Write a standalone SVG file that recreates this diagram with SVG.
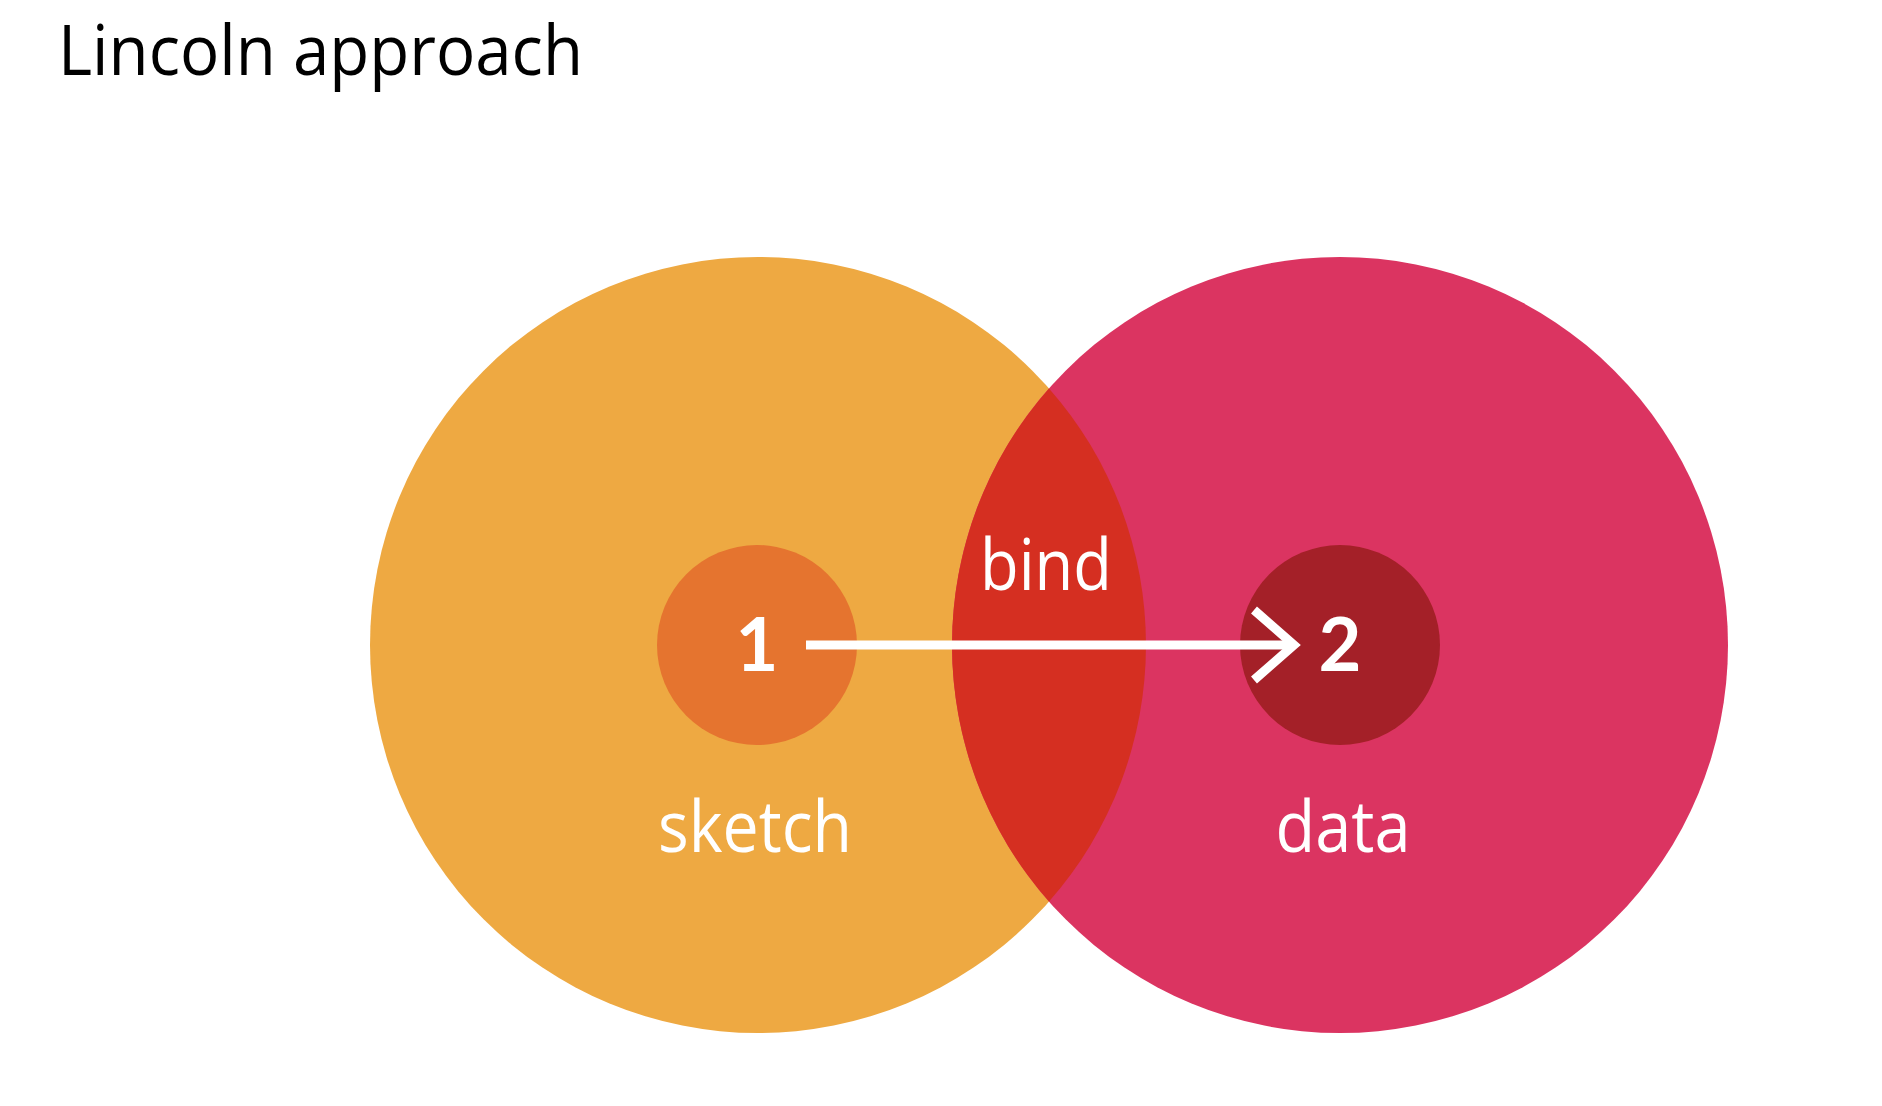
<svg xmlns="http://www.w3.org/2000/svg" width="1882" height="1106" viewBox="0 0 1882 1106">
  <style>
    .title { font-family: "Open Sans", "Liberation Sans", sans-serif; font-size: 70px; fill: #000000; }
    .label { font-family: "Open Sans", "Liberation Sans", sans-serif; font-size: 72px; fill: #ffffff; text-anchor: middle; }
    .num { font-family: Lato, "DejaVu Sans", sans-serif; font-size: 74px; font-weight: bold; fill: #ffffff; text-anchor: middle; }
    .conn { stroke: #ffffff; stroke-width: 9; fill: none; }
  </style>
  <defs>
    <marker id="chev" markerUnits="userSpaceOnUse" viewBox="-50 -45 60 90" markerWidth="60" markerHeight="90" refX="0" refY="0" orient="auto" overflow="visible">
      <path d="M -40,-35 L 0,0 L -40,35" stroke="#ffffff" stroke-width="9" fill="none" stroke-miterlimit="10"/>
    </marker>
  </defs>
  <rect width="1882" height="1106" fill="#ffffff"/>
  <text class="title" x="58" y="75" textLength="525" lengthAdjust="spacingAndGlyphs">Lincoln approach</text>

  <g id="sketch">
    <circle cx="758" cy="645" r="388" fill="#EEA942"/>
  </g>
  <g id="data">
    <circle cx="1340" cy="645" r="388" fill="#DB3461"/>
  </g>
  <g id="bind">
    <path d="M1049,388.4 A388,388 0 0,1 1049,901.6 A388,388 0 0,1 1049,388.4 Z" fill="#D52F21"/>
    <text class="label" x="1046" y="590" textLength="132" lengthAdjust="spacingAndGlyphs">bind</text>
  </g>
  <g id="node1">
    <circle cx="757" cy="645" r="100" fill="#E5742F"/>
    <text class="num" x="757" y="671">1</text>
  </g>
  <g id="node2">
    <circle cx="1340" cy="645" r="100" fill="#A42028"/>
    <text class="num" x="1340" y="671">2</text>
  </g>
  <g id="sketch-label">
    <text class="label" x="755" y="852" textLength="194" lengthAdjust="spacingAndGlyphs">sketch</text>
  </g>
  <g id="data-label">
    <text class="label" x="1343" y="852" textLength="135" lengthAdjust="spacingAndGlyphs">data</text>
  </g>

  <g id="connectors">
    <line class="conn" x1="806" y1="645" x2="1294" y2="645" marker-end="url(#chev)"/>
  </g>
</svg>
